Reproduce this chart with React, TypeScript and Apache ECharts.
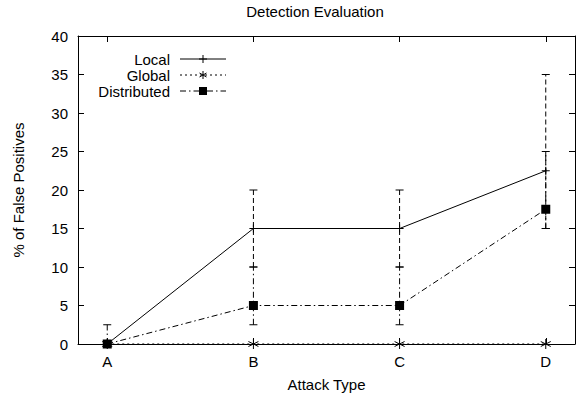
import React, { useEffect, useRef } from "react";
import * as echarts from "echarts";

const categories = ["A", "B", "C", "D"];
const localValues = [0, 15, 15, 22.5];
const globalValues = [0, 0, 0, 0];
const distributedValues = [0, 5, 5, 17.5];
const localErrLow = [0, 10, 10, 15];
const localErrHigh = [0, 20, 20, 35];
const distErrLow = [0, 2.5, 2.5, 15];
const distErrHigh = [2.5, 10, 10, 25];
const yTicks = [0, 5, 10, 15, 20, 25, 30, 35, 40];
const xIdx = categories.map((_, i) => i);

const FONT = "'Liberation Sans', Arial, Helvetica, sans-serif";
const DASH_DOT = [6, 3, 1.5, 3];
const DOTTED = [2, 3];
const DASHED = [5, 3];

const plusPath = "path://M0,5L10,5M5,0L5,10";
const starPath = "path://M5,0L5,10M0.7,2.5L9.3,7.5M0.7,7.5L9.3,2.5";

function errorSeries(low: number[], high: number[], dash: number[] | null) {
  return {
    type: "custom",
    xAxisIndex: 0,
    yAxisIndex: 0,
    silent: true,
    z: 1,
    data: xIdx.map((i) => [i, low[i], high[i]]),
    renderItem: (params: any, api: any) => {
      const x = api.value(0);
      const lo = api.coord([x, api.value(1)]);
      const hi = api.coord([x, api.value(2)]);
      const w = 4;
      const style: any = { stroke: "#000", lineWidth: 1 };
      if (dash) style.lineDash = dash;
      return {
        type: "group",
        children: [
          { type: "line", shape: { x1: lo[0], y1: lo[1], x2: hi[0], y2: hi[1] }, style },
          { type: "line", shape: { x1: hi[0] - w, y1: hi[1], x2: hi[0] + w, y2: hi[1] }, style: { stroke: "#000", lineWidth: 1 } },
          { type: "line", shape: { x1: lo[0] - w, y1: lo[1], x2: lo[0] + w, y2: lo[1] }, style: { stroke: "#000", lineWidth: 1 } },
        ],
      };
    },
  };
}

export default function App() {
  const ref = useRef<HTMLDivElement>(null);
  useEffect(() => {
    if (!ref.current) return;
    const chart = echarts.init(ref.current, null, { renderer: "svg" });
    const legendRows = [
      { name: "Local", y: 59, dash: null as number[] | null },
      { name: "Global", y: 75, dash: DOTTED },
      { name: "Distributed", y: 91, dash: DASH_DOT },
    ];
    const legendGraphics: any[] = [];
    legendRows.forEach((r, i) => {
      legendGraphics.push({
        type: "text",
        x: 170,
        y: r.y,
        style: { text: r.name, font: `15px ${FONT}`, fill: "#000", align: "right", verticalAlign: "middle" },
      });
      const ls: any = { stroke: "#000", lineWidth: 1 };
      if (r.dash) ls.lineDash = r.dash;
      legendGraphics.push({ type: "line", shape: { x1: 180, y1: r.y, x2: 226, y2: r.y }, style: ls });
      if (i === 0) {
        legendGraphics.push({ type: "line", shape: { x1: 199, y1: r.y, x2: 207, y2: r.y }, style: { stroke: "#000", lineWidth: 1 } });
        legendGraphics.push({ type: "line", shape: { x1: 203, y1: r.y - 4, x2: 203, y2: r.y + 4 }, style: { stroke: "#000", lineWidth: 1 } });
      } else if (i === 1) {
        legendGraphics.push({ type: "line", shape: { x1: 203, y1: r.y - 4, x2: 203, y2: r.y + 4 }, style: { stroke: "#000", lineWidth: 1 } });
        legendGraphics.push({ type: "line", shape: { x1: 199.5, y1: r.y - 2, x2: 206.5, y2: r.y + 2 }, style: { stroke: "#000", lineWidth: 1 } });
        legendGraphics.push({ type: "line", shape: { x1: 199.5, y1: r.y + 2, x2: 206.5, y2: r.y - 2 }, style: { stroke: "#000", lineWidth: 1 } });
      } else {
        legendGraphics.push({ type: "rect", shape: { x: 199, y: r.y - 4, width: 8, height: 8 }, style: { fill: "#000" } });
      }
    });

    const tickStyle = { show: true, inside: true, length: 6, lineStyle: { color: "#000", width: 1 } };
    const lineStyleAxis = { show: true, onZero: false, lineStyle: { color: "#000", width: 1 } };
    chart.setOption({
      animation: false,
      backgroundColor: "#fff",
      grid: { left: 78, right: 1, top: 36, bottom: 52, containLabel: false, outerBoundsMode: "none" },
      graphic: [
        {
          type: "text",
          x: 315,
          y: 11,
          style: { text: "Detection Evaluation", font: `15px ${FONT}`, fill: "#000", align: "center", verticalAlign: "middle" },
        },
        ...legendGraphics,
      ],
      xAxis: [
        {
          type: "value",
          min: -0.2,
          max: 3.2,
          position: "bottom",
          name: "Attack Type",
          nameLocation: "middle",
          nameGap: 33,
          nameTextStyle: { fontFamily: FONT, fontSize: 15, color: "#000" },
          axisLine: lineStyleAxis,
          axisTick: { ...tickStyle, customValues: xIdx },
          axisLabel: {
            customValues: xIdx,
            formatter: (v: number) => categories[Math.round(v)] ?? "",
            fontFamily: FONT,
            fontSize: 15,
            color: "#000",
            margin: 10,
          },
          splitLine: { show: false },
        },
        {
          type: "value",
          min: -0.2,
          max: 3.2,
          position: "top",
          axisLine: lineStyleAxis,
          axisTick: { ...tickStyle, customValues: xIdx },
          axisLabel: { show: false },
          splitLine: { show: false },
        },
      ],
      yAxis: [
        {
          type: "value",
          min: 0,
          max: 40,
          interval: 5,
          position: "left",
          name: "% of False Positives",
          nameLocation: "middle",
          nameGap: 52,
          nameTextStyle: { fontFamily: FONT, fontSize: 15, color: "#000" },
          axisLine: lineStyleAxis,
          axisTick: tickStyle,
          axisLabel: {
            fontFamily: FONT,
            fontSize: 15,
            color: "#000",
            margin: 10,
            formatter: (v: number) => (yTicks.includes(v) ? String(v) : ""),
          },
          splitLine: { show: false },
        },
        {
          type: "value",
          min: 0,
          max: 40,
          interval: 5,
          position: "right",
          axisLine: lineStyleAxis,
          axisTick: tickStyle,
          axisLabel: { show: false },
          splitLine: { show: false },
        },
      ],
      series: [
        errorSeries(localErrLow, localErrHigh, DASHED),
        errorSeries(distErrLow, distErrHigh, DASH_DOT),
        {
          name: "Local",
          type: "line",
          data: xIdx.map((i) => [i, localValues[i]]),
          symbol: plusPath,
          symbolSize: 8,
          showSymbol: true,
          lineStyle: { color: "#000", width: 1, type: "solid" },
          itemStyle: { color: "none", borderColor: "#000", borderWidth: 1 },
          z: 3,
        },
        {
          name: "Global",
          type: "line",
          data: xIdx.map((i) => [i, globalValues[i]]),
          symbol: starPath,
          symbolSize: 10,
          showSymbol: true,
          lineStyle: { color: "#000", width: 1, type: DOTTED },
          itemStyle: { color: "none", borderColor: "#000", borderWidth: 1 },
          z: 3,
        },
        {
          name: "Distributed",
          type: "line",
          data: xIdx.map((i) => [i, distributedValues[i]]),
          symbol: "rect",
          symbolSize: 9,
          showSymbol: true,
          lineStyle: { color: "#000", width: 1, type: DASH_DOT },
          itemStyle: { color: "#000" },
          z: 4,
        },
      ],
    });
    return () => chart.dispose();
  }, []);
  return <div ref={ref} style={{ width: 576, height: 396, position: "absolute", left: 0, top: 0 }} />;
}
